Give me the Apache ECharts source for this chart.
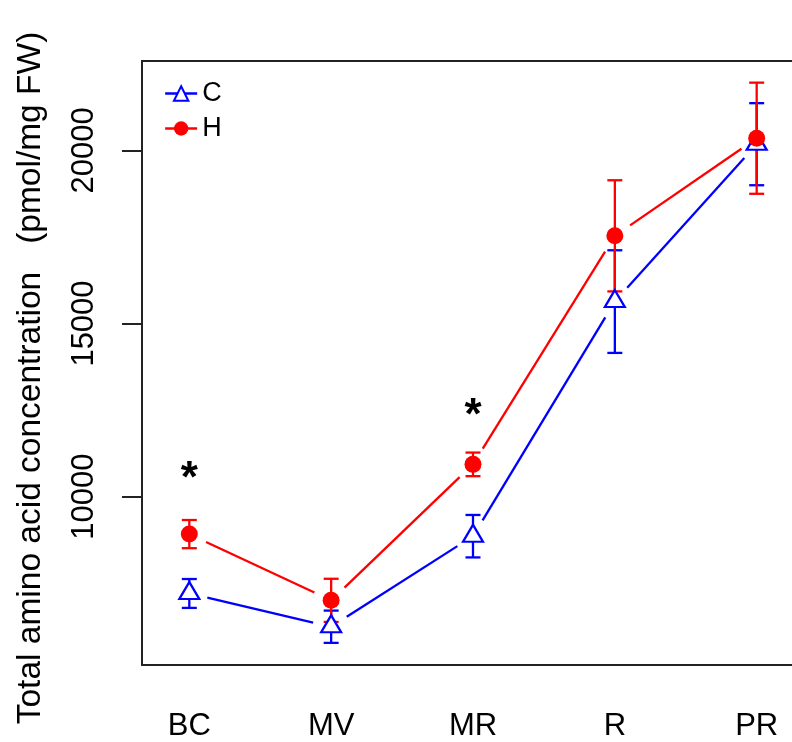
<!DOCTYPE html>
<html>
<head>
<meta charset="utf-8">
<script src="https://cdn.jsdelivr.net/npm/echarts@6/dist/echarts.min.js"></script>
<style>
    html, body {margin: 0; padding: 0; background: #fff;}
    #chart {width: 792px; height: 742px;}
</style>
</head>
<body>
<div id="chart"></div>
<script>
// stages along the x axis
var categories = ['BC', 'MV', 'MR', 'R', 'PR'];
var xPos = [1, 2, 3, 4, 5];

// C group: mean and error (pmol/mg FW)
var meanC = [7204, 6243, 8858, 15633, 20178];
var errC = [417, 466, 613, 1482, 1185];

// H group
var meanH = [8918, 7005, 10932, 17532, 20351];
var errH = [407, 623, 341, 1605, 1605];

// significance marks (stage index, height)
var starX = [1, 3];
var starY = [10765, 12589];

var yTicks = [10000, 15000, 20000];

var FONT = '"Liberation Sans", Arial, Helvetica, sans-serif';
var BLUE = '#0000ff';
var RED = '#ff0000';
var BOX = '#222';

var segments = function (means) {
    var out = [];
    for (var i = 0; i < means.length - 1; i++) {
        out.push([xPos[i], means[i], xPos[i + 1], means[i + 1]]);
    }
    return out;
};
var bars = function (means, errs) {
    return means.map(function (m, i) {
        return [xPos[i], m - errs[i], m + errs[i]];
    });
};

// R style type="b": segments stop short of the points
var gapLine = function (color) {
    return function (params, api) {
        var p1 = api.coord([api.value(0), api.value(1)]);
        var p2 = api.coord([api.value(2), api.value(3)]);
        var dx = p2[0] - p1[0], dy = p2[1] - p1[1];
        var len = Math.sqrt(dx * dx + dy * dy);
        var g = 18.5;
        return {
            type: 'line',
            shape: {
                x1: p1[0] + dx / len * g, y1: p1[1] + dy / len * g,
                x2: p2[0] - dx / len * g, y2: p2[1] - dy / len * g
            },
            style: {stroke: color, lineWidth: 2.3}
        };
    };
};
var errBar = function (color) {
    return function (params, api) {
        var lo = api.coord([api.value(0), api.value(1)]);
        var hi = api.coord([api.value(0), api.value(2)]);
        var w = 7.5;
        var st = {stroke: color, lineWidth: 2.3};
        return {
            type: 'group',
            children: [
                {type: 'line', shape: {x1: lo[0], y1: lo[1], x2: hi[0], y2: hi[1]}, style: st},
                {type: 'line', shape: {x1: lo[0] - w, y1: lo[1], x2: lo[0] + w, y2: lo[1]}, style: st},
                {type: 'line', shape: {x1: hi[0] - w, y1: hi[1], x2: hi[0] + w, y2: hi[1]}, style: st}
            ]
        };
    };
};

var option = {
    animation: false,
    backgroundColor: '#fff',
    grid: {
        left: 142,
        top: 61,
        right: 0,
        height: 606
    },
    legend: {
        orient: 'vertical',
        left: 164,
        top: 80,
        padding: 0,
        itemWidth: 32,
        itemHeight: 18,
        itemGap: 8,
        data: ['C', 'H'],
        textStyle: {fontFamily: FONT, fontSize: 27, color: '#000', padding: [0, 0, 0, 0]},
        lineStyle: {width: 2.3, opacity: 1}
    },
    xAxis: [{
        type: 'value',
        min: 0.6665,
        max: 5.249,
        splitLine: {show: false},
        axisLine: {show: true, onZero: false, lineStyle: {color: BOX, width: 2}},
        axisTick: {show: false},
        axisLabel: {
            customValues: xPos,
            margin: 46,
            fontFamily: FONT,
            fontSize: 31,
            color: '#000',
            formatter: function (v) { return categories[Math.round(v) - 1]; }
        }
    }, {
        // top edge of the box
        type: 'value',
        position: 'top',
        min: 0.6665,
        max: 5.249,
        splitLine: {show: false},
        axisLine: {show: true, onZero: false, lineStyle: {color: BOX, width: 2}},
        axisTick: {show: false},
        axisLabel: {show: false}
    }],
    yAxis: {
        type: 'value',
        min: 5138,
        max: 22581,
        splitLine: {show: false},
        axisLine: {show: true, onZero: false, lineStyle: {color: BOX, width: 2}},
        axisTick: {show: true, customValues: yTicks, length: 20, lineStyle: {color: BOX, width: 2}},
        axisLabel: {
            customValues: yTicks,
            rotate: 90,
            margin: 42,
            fontFamily: FONT,
            fontSize: 31,
            color: '#000',
            formatter: function (v) { return String(v); }
        }
    },
    graphic: [{
        type: 'text',
        x: 31,
        y: 378,
        rotation: Math.PI / 2,
        style: {
            text: 'Total amino acid concentration   (pmol/mg FW)',
            fontFamily: FONT,
            fontSize: 33.5,
            fill: '#000',
            align: 'center',
            verticalAlign: 'middle'
        }
    }],
    series: [
        {
            name: 'C line', type: 'custom', data: segments(meanC),
            renderItem: gapLine(BLUE), silent: true
        },
        {
            name: 'C err', type: 'custom', data: bars(meanC, errC),
            renderItem: errBar(BLUE), silent: true
        },
        {
            name: 'C', type: 'line',
            data: xPos.map(function (x, i) { return [x, meanC[i]]; }),
            symbol: 'triangle',
            symbolSize: [20, 17],
            symbolOffset: [0, -3],
            showSymbol: true,
            lineStyle: {color: BLUE, width: 2.3, opacity: 0},
            itemStyle: {color: '#fff', borderColor: BLUE, borderWidth: 2.2}
        },
        {
            name: 'H line', type: 'custom', data: segments(meanH),
            renderItem: gapLine(RED), silent: true
        },
        {
            name: 'H err', type: 'custom', data: bars(meanH, errH),
            renderItem: errBar(RED), silent: true
        },
        {
            name: 'H', type: 'line',
            data: xPos.map(function (x, i) { return [x, meanH[i]]; }),
            symbol: 'circle',
            symbolSize: 17,
            showSymbol: true,
            lineStyle: {color: RED, width: 2.3, opacity: 0},
            itemStyle: {color: RED, borderWidth: 0}
        },
        {
            name: 'stars', type: 'custom',
            data: starX.map(function (x, i) { return [x, starY[i]]; }),
            silent: true,
            renderItem: function (params, api) {
                var p = api.coord([api.value(0), api.value(1)]);
                return {
                    type: 'text',
                    x: p[0],
                    y: p[1] + 10,
                    style: {
                        text: '*',
                        fontFamily: FONT,
                        fontSize: 44,
                        fontWeight: 'bold',
                        fill: '#000',
                        align: 'center',
                        verticalAlign: 'middle'
                    }
                };
            }
        }
    ]
};

var myChart = echarts.init(document.getElementById('chart'));
myChart.setOption(option);
</script>
</body>
</html>
